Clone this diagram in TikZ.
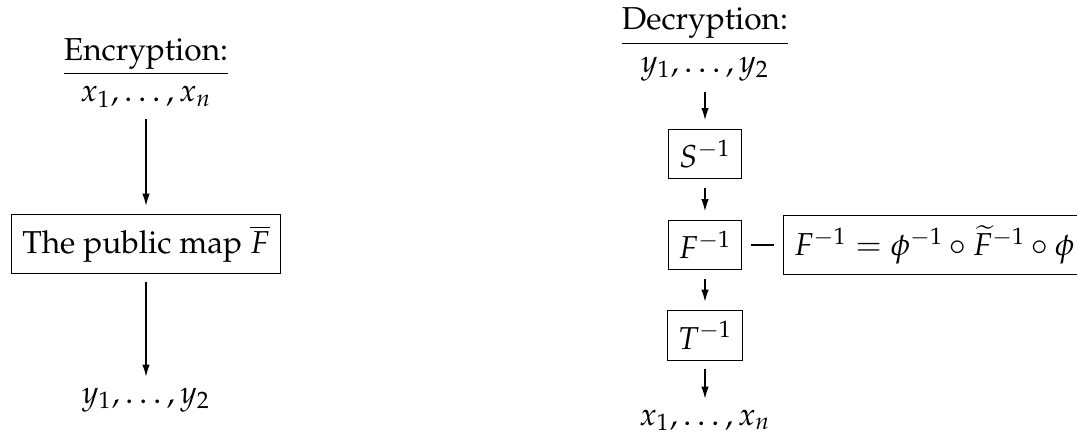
\documentclass[12pt,tikz,border=0pt]{standalone}
\usepackage[T1]{fontenc}
\usepackage{mathpazo}
\usepackage{amsmath}
\usetikzlibrary{positioning,arrows.meta}

\begin{document}
\begin{tikzpicture}[
  box/.style={draw, outer sep=3.5pt, inner sep=4pt},
  flow/.style={-{Latex[length=4.5pt, width=2.8pt]}},
]
\useasboundingbox (0,0) rectangle (14.34,-5.846);

% encryption side
\node[anchor=base] (enc) at (1.944,-0.799) {\underline{Encryption:}};
\node[anchor=base] (encin) at (1.944,-1.358) {$x_1,\ldots,x_n$};
\node[box] (pub) at (1.944,-3.249) {The public map $\overline{F}$};
\node[anchor=base] (encout) at (1.944,-5.366) {$y_1,\ldots,y_2$};

\draw[flow] (encin) -- (pub);
\draw[flow] (pub) -- (encout);

% decryption side
\node[anchor=base] (dec) at (9.387,-0.399) {\underline{Decryption:}};
\node[anchor=base] (decin) at (9.387,-0.959) {$y_1,\ldots,y_2$};
\node[box] (sinv) at (9.387,-2.051) {$S^{-1}$};
\node[box] (finv) at (9.387,-3.262) {$F^{-1}$};
\node[box] (tinv) at (9.387,-4.467) {$T^{-1}$};
\node[anchor=base] (decout) at (9.387,-5.659) {$x_1,\ldots,x_n$};
\node[box, right=0.31cm of finv] (split)
  {$F^{-1} = \phi^{-1}\circ\widetilde{F}^{-1}\circ\phi$};

\draw[flow] (decin) -- (sinv);
\draw[flow] (sinv) -- (finv);
\draw[flow] (finv) -- (tinv);
\draw[flow] (tinv) -- (decout);
\draw (finv) -- (split);

\end{tikzpicture}
\end{document}
